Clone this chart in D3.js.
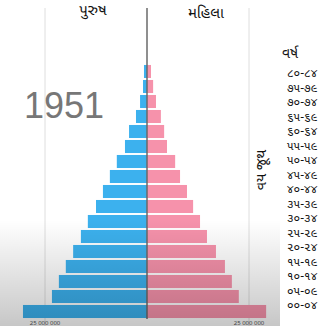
<!DOCTYPE html>
<html>
<head>
<meta charset="utf-8">
<script src="https://cdn.jsdelivr.net/npm/d3@7"></script>
<style>
	html, body { margin: 0; padding: 0; background: #fff; }
	svg { display: block; font-family: "Noto Sans Gujarati", "Noto Sans", "DejaVu Sans", sans-serif; }
</style>
</head>
<body>
<div id="chart"></div>
<script>

// DATA (population, 1951)

const ageGroups = ['૮૦-૮૪','૭૫-૭૯','૭૦-૭૪','૬૫-૬૯','૬૦-૬૪','૫૫-૫૯','૫૦-૫૪','૪૫-૪૯','૪૦-૪૪',
			'૩૫-૩૯','૩૦-૩૪','૨૫-૨૯','૨૦-૨૪','૧૫-૧૯','૧૦-૧૪','૦૫-૦૯','૦૦-૦૪'];

const male = [0.74, 0.98, 1.7, 2.7, 4.4, 5.4, 7.4, 9.1, 10.8,
			12.5, 14.5, 16.2, 18.1, 19.9, 21.6, 23.3, 30.4].map(v => v * 1e6);

const female = [0.98, 1.5, 2.2, 3.4, 4.2, 4.9, 6.9, 8.1, 9.8,
			11.3, 13.0, 14.7, 16.9, 19.1, 20.8, 22.5, 29.2].map(v => v * 1e6);

const gridTicks = [-25e6, 25e6];
const year = '1951',
			maleLabel = 'પુરુષ',
			femaleLabel = 'મહિલા',
			yearLabel = 'વર્ષ',
			axisLabel = 'વય જૂથ';

// CHART

const W = 332, H = 326;

const svg = d3.select('#chart')
	.append('svg')
	.attr('width', W)
	.attr('height', H);

const x = d3.scaleLinear().domain([-25e6, 25e6]).range([45, 249]);

const y = d3.scaleBand()
	.domain(ageGroups)
	.range([64, 319])
	.paddingInner(0.13)
	.paddingOuter(0.065);

const yLabel = d3.scalePoint().domain(ageGroups).range([73, 305]);

// grid
svg.selectAll('.grid')
	.data(gridTicks)
	.join('line')
	.attr('x1', d => x(d)).attr('x2', d => x(d))
	.attr('y1', 8).attr('y2', H)
	.attr('stroke', '#dedede')
	.attr('stroke-width', 1);

// bars
const rows = ageGroups.map((g, i) => ({ g, m: male[i], f: female[i] }));

svg.selectAll('.male')
	.data(rows)
	.join('rect')
	.attr('x', d => x(-d.m))
	.attr('y', d => y(d.g))
	.attr('width', d => x(0) - x(-d.m))
	.attr('height', y.bandwidth())
	.attr('fill', '#3cb1ee');

svg.selectAll('.female')
	.data(rows)
	.join('rect')
	.attr('x', x(0))
	.attr('y', d => y(d.g))
	.attr('width', d => x(d.f) - x(0))
	.attr('height', y.bandwidth())
	.attr('fill', '#f692ab');

// center axis
svg.append('line')
	.attr('x1', x(0)).attr('x2', x(0))
	.attr('y1', 8).attr('y2', 319)
	.attr('stroke', '#6a6a6a')
	.attr('stroke-width', 1.5);

// titles
svg.append('text')
	.attr('x', 93).attr('y', 15)
	.attr('text-anchor', 'middle')
	.attr('font-size', 15)
	.attr('fill', '#111')
	.text(maleLabel);

svg.append('text')
	.attr('x', 206).attr('y', 18)
	.attr('text-anchor', 'middle')
	.attr('font-size', 15)
	.attr('fill', '#111')
	.text(femaleLabel);

svg.append('text')
	.attr('x', 64).attr('y', 118)
	.attr('text-anchor', 'middle')
	.attr('font-family', 'Liberation Sans, Arial, sans-serif')
	.attr('font-size', 36)
	.attr('fill', '#777')
	.text(year);

// age labels
svg.append('text')
	.attr('x', 290).attr('y', 58)
	.attr('text-anchor', 'middle')
	.attr('font-size', 14)
	.attr('fill', '#111')
	.text(yearLabel);

svg.selectAll('.age')
	.data(ageGroups)
	.join('text')
	.attr('x', 287)
	.attr('y', d => yLabel(d))
	.attr('dy', '0.35em')
	.attr('font-size', 12)
	.attr('fill', '#111')
	.text(d => d);

svg.append('text')
	.attr('transform', 'translate(266,170) rotate(-90)')
	.attr('text-anchor', 'middle')
	.attr('font-size', 14)
	.attr('fill', '#111')
	.text(axisLabel);

// tick labels (mostly hidden by the player bar)
svg.selectAll('.tick')
	.data(gridTicks)
	.join('text')
	.attr('x', d => x(d))
	.attr('y', 325)
	.attr('text-anchor', 'middle')
	.attr('font-size', 6)
	.attr('fill', '#555')
	.text(d => d3.format(',')(Math.abs(d)).replace(/,/g, ' '));

// video overlay shading at the bottom
const defs = svg.append('defs');
const grad = defs.append('linearGradient')
	.attr('id', 'shade')
	.attr('x1', 0).attr('x2', 0).attr('y1', 0).attr('y2', 1);
grad.append('stop').attr('offset', '0%').attr('stop-color', '#000').attr('stop-opacity', 0);
grad.append('stop').attr('offset', '100%').attr('stop-color', '#000').attr('stop-opacity', 0.22);

svg.append('rect')
	.attr('x', 0).attr('y', 220)
	.attr('width', 280).attr('height', H - 220)
	.attr('fill', 'url(#shade)')
	.attr('pointer-events', 'none');

</script>
</body>
</html>
